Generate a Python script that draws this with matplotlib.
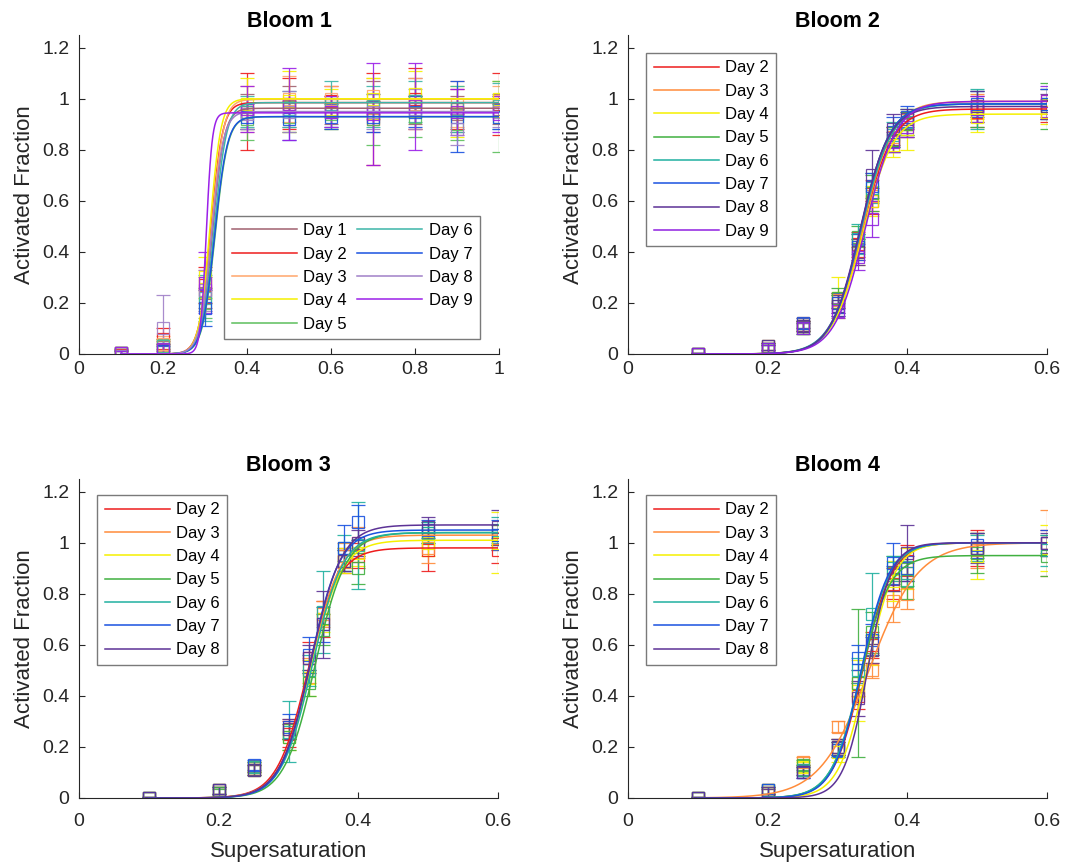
import numpy as np
import matplotlib
matplotlib.use("Agg")
import matplotlib.pyplot as plt
from matplotlib.ticker import FuncFormatter


# ---- Bloom 1 (days 1-9) ----
B1_X = [0.1, 0.2, 0.3, 0.4, 0.5, 0.6, 0.7, 0.8, 0.9, 1.0]
B1_DAYS = ["Day 1", "Day 2", "Day 3", "Day 4", "Day 5", "Day 6", "Day 7", "Day 8", "Day 9"]
B1_Y = [
    [0.005, 0.03, 0.24, 0.95, 0.97, 0.95, 0.97, 0.99, 0.94, 0.96],
    [0.005, 0.06, 0.27, 0.95, 0.98, 0.99, 0.92, 1.00, 0.96, 0.98],
    [0.003, 0.04, 0.25, 0.96, 1.00, 1.00, 1.01, 0.98, 0.98, 0.99],
    [0.002, 0.03, 0.30, 0.98, 0.99, 0.96, 1.00, 1.02, 0.95, 1.00],
    [0.004, 0.02, 0.20, 0.92, 0.93, 0.94, 0.92, 0.93, 0.90, 0.93],
    [0.003, 0.03, 0.22, 0.95, 0.96, 0.98, 0.97, 0.99, 0.96, 0.97],
    [0.002, 0.01, 0.18, 0.93, 0.92, 0.93, 0.93, 0.95, 0.93, 0.93],
    [0.004, 0.10, 0.25, 0.94, 0.95, 0.95, 0.95, 0.96, 0.88, 0.95],
    [0.002, 0.02, 0.28, 0.96, 0.98, 0.95, 0.94, 0.97, 0.95, 0.94],
]
B1_ERR = [
    [0.010, 0.02, 0.06, 0.07, 0.08, 0.05, 0.10, 0.09, 0.07, 0.06],
    [0.015, 0.04, 0.07, 0.15, 0.10, 0.06, 0.18, 0.12, 0.08, 0.12],
    [0.010, 0.03, 0.08, 0.09, 0.09, 0.05, 0.07, 0.10, 0.09, 0.06],
    [0.010, 0.03, 0.08, 0.10, 0.12, 0.08, 0.08, 0.09, 0.10, 0.07],
    [0.010, 0.02, 0.06, 0.08, 0.06, 0.06, 0.10, 0.08, 0.06, 0.14],
    [0.010, 0.03, 0.09, 0.06, 0.07, 0.09, 0.08, 0.08, 0.09, 0.09],
    [0.010, 0.02, 0.07, 0.05, 0.08, 0.05, 0.06, 0.06, 0.14, 0.05],
    [0.010, 0.13, 0.08, 0.06, 0.08, 0.06, 0.07, 0.08, 0.06, 0.06],
    [0.010, 0.02, 0.12, 0.09, 0.14, 0.06, 0.20, 0.17, 0.09, 0.07],
]
B1_TOP = [0.963, 0.985, 0.998, 1.0, 0.93, 0.985, 0.93, 0.95, 0.945]
B1_MID = [0.318, 0.314, 0.316, 0.312, 0.324, 0.322, 0.323, 0.316, 0.303]
B1_WIDTH = [0.014, 0.014, 0.014, 0.013, 0.015, 0.015, 0.015, 0.014, 0.007]
B1_COLORS = ["#a0616f", "#ee1c1c", "#ffa56b", "#f5f000", "#5cbf5c",
             "#3cb5a8", "#1a52e0", "#a080c8", "#9b20e8"]

# ---- Bloom 2 (days 2-9) ----
X_SS = [0.1, 0.2, 0.25, 0.3, 0.33, 0.35, 0.38, 0.4, 0.5, 0.6]
B2_DAYS = ["Day 2", "Day 3", "Day 4", "Day 5", "Day 6", "Day 7", "Day 8", "Day 9"]
B2_Y = [
    [0.0, 0.03, 0.11, 0.20, 0.43, 0.60, 0.84, 0.90, 0.95, 0.95],
    [0.0, 0.02, 0.12, 0.21, 0.42, 0.62, 0.85, 0.90, 0.97, 0.99],
    [0.0, 0.02, 0.10, 0.22, 0.40, 0.60, 0.82, 0.88, 0.93, 0.95],
    [0.0, 0.03, 0.11, 0.22, 0.46, 0.63, 0.84, 0.90, 0.96, 0.97],
    [0.0, 0.02, 0.10, 0.19, 0.45, 0.65, 0.86, 0.91, 0.96, 0.98],
    [0.0, 0.02, 0.12, 0.20, 0.42, 0.66, 0.87, 0.93, 0.98, 0.98],
    [0.0, 0.03, 0.11, 0.19, 0.40, 0.70, 0.88, 0.92, 0.97, 0.97],
    [0.0, 0.02, 0.10, 0.17, 0.38, 0.53, 0.83, 0.89, 0.96, 0.99],
]
B2_ERR = [
    [0.005, 0.015, 0.02, 0.04, 0.05, 0.05, 0.05, 0.05, 0.06, 0.04],
    [0.005, 0.015, 0.02, 0.03, 0.05, 0.06, 0.04, 0.04, 0.05, 0.05],
    [0.005, 0.015, 0.02, 0.08, 0.05, 0.06, 0.05, 0.08, 0.06, 0.05],
    [0.005, 0.015, 0.02, 0.04, 0.04, 0.07, 0.05, 0.05, 0.07, 0.09],
    [0.005, 0.015, 0.02, 0.04, 0.06, 0.06, 0.05, 0.05, 0.08, 0.06],
    [0.005, 0.015, 0.02, 0.04, 0.05, 0.05, 0.06, 0.04, 0.05, 0.06],
    [0.005, 0.015, 0.02, 0.04, 0.05, 0.10, 0.06, 0.04, 0.06, 0.05],
    [0.005, 0.015, 0.02, 0.03, 0.05, 0.07, 0.04, 0.04, 0.05, 0.06],
]
B2_TOP = [0.96, 0.99, 0.94, 0.98, 0.98, 0.98, 0.97, 0.99]
B2_MID = [0.335, 0.336, 0.336, 0.333, 0.334, 0.333, 0.332, 0.340]
B2_WIDTH = [0.022, 0.022, 0.022, 0.021, 0.022, 0.021, 0.021, 0.022]
B2_COLORS = ["#ee1c1c", "#ff8c3a", "#f5f000", "#40b040",
             "#20b0a0", "#1a52e0", "#5c3296", "#9020e0"]

# ---- Bloom 3 (days 2-8) ----
B3_DAYS = ["Day 2", "Day 3", "Day 4", "Day 5", "Day 6", "Day 7", "Day 8"]
B3_Y = [
    [0.0, 0.03, 0.12, 0.25, 0.55, 0.70, 0.93, 0.95, 0.97, 0.97],
    [0.0, 0.03, 0.11, 0.27, 0.50, 0.72, 0.95, 1.00, 0.98, 1.02],
    [0.0, 0.03, 0.12, 0.24, 0.47, 0.70, 0.93, 0.96, 1.00, 1.00],
    [0.0, 0.02, 0.11, 0.24, 0.45, 0.66, 0.93, 0.90, 1.04, 1.03],
    [0.0, 0.03, 0.12, 0.26, 0.50, 0.73, 0.98, 0.99, 1.04, 1.05],
    [0.0, 0.03, 0.13, 0.28, 0.56, 0.68, 0.98, 1.08, 1.05, 1.03],
    [0.0, 0.03, 0.11, 0.27, 0.55, 0.68, 0.93, 1.00, 1.06, 1.06],
]
B3_ERR = [
    [0.005, 0.015, 0.02, 0.05, 0.06, 0.07, 0.05, 0.05, 0.08, 0.05],
    [0.005, 0.015, 0.02, 0.04, 0.05, 0.05, 0.05, 0.06, 0.06, 0.05],
    [0.005, 0.015, 0.02, 0.05, 0.07, 0.05, 0.05, 0.05, 0.05, 0.12],
    [0.005, 0.015, 0.02, 0.05, 0.05, 0.06, 0.04, 0.06, 0.04, 0.04],
    [0.005, 0.015, 0.02, 0.12, 0.06, 0.16, 0.05, 0.17, 0.04, 0.05],
    [0.005, 0.015, 0.02, 0.05, 0.07, 0.07, 0.09, 0.07, 0.04, 0.06],
    [0.005, 0.015, 0.02, 0.04, 0.05, 0.13, 0.04, 0.05, 0.04, 0.07],
]
B3_TOP = [0.98, 1.03, 1.01, 1.04, 1.04, 1.05, 1.07]
B3_MID = [0.327, 0.331, 0.332, 0.338, 0.334, 0.331, 0.332]
B3_WIDTH = [0.022, 0.022, 0.022, 0.022, 0.022, 0.021, 0.022]

# ---- Bloom 4 (days 2-8) ----
B4_DAYS = ["Day 2", "Day 3", "Day 4", "Day 5", "Day 6", "Day 7", "Day 8"]
B4_Y = [
    [0.0, 0.03, 0.11, 0.20, 0.40, 0.60, 0.84, 0.93, 0.98, 1.00],
    [0.0, 0.03, 0.14, 0.28, 0.45, 0.50, 0.77, 0.80, 0.97, 1.00],
    [0.0, 0.02, 0.12, 0.18, 0.42, 0.58, 0.85, 0.90, 0.95, 0.98],
    [0.0, 0.03, 0.13, 0.20, 0.45, 0.65, 0.88, 0.85, 0.96, 0.95],
    [0.0, 0.03, 0.11, 0.19, 0.50, 0.72, 0.90, 0.88, 0.98, 0.97],
    [0.0, 0.03, 0.10, 0.19, 0.55, 0.62, 0.92, 0.90, 0.99, 1.00],
    [0.0, 0.02, 0.10, 0.20, 0.39, 0.58, 0.86, 0.96, 0.98, 1.00],
]
B4_ERR = [
    [0.005, 0.015, 0.02, 0.03, 0.05, 0.05, 0.06, 0.06, 0.07, 0.05],
    [0.005, 0.015, 0.02, 0.02, 0.05, 0.03, 0.08, 0.06, 0.07, 0.13],
    [0.005, 0.015, 0.02, 0.04, 0.12, 0.06, 0.08, 0.08, 0.09, 0.09],
    [0.005, 0.015, 0.02, 0.03, 0.29, 0.08, 0.07, 0.07, 0.08, 0.08],
    [0.005, 0.015, 0.02, 0.03, 0.05, 0.16, 0.05, 0.05, 0.05, 0.06],
    [0.005, 0.015, 0.02, 0.03, 0.05, 0.06, 0.08, 0.05, 0.05, 0.05],
    [0.005, 0.015, 0.02, 0.03, 0.07, 0.05, 0.05, 0.11, 0.06, 0.04],
]
B4_TOP = [1.0, 1.0, 1.0, 0.95, 1.0, 1.0, 1.0]
B4_MID = [0.336, 0.345, 0.342, 0.333, 0.334, 0.334, 0.343]
B4_WIDTH = [0.021, 0.035, 0.020, 0.021, 0.021, 0.020, 0.017]
B34_COLORS = B2_COLORS[:7]

AXIS_COLOR = "#262626"


def sigmoid(x, top, mid, width):
    return top / (1.0 + np.exp(-(x - mid) / width))


def tick_fmt(v, _pos):
    return f"{v:g}"


def draw_bloom(ax, title, x, ys, errs, tops, mids, widths, days, colors, xmax):
    xs = np.linspace(min(x), max(x), 400)
    handles = []
    for y, e, t, m, w, c, d in zip(ys, errs, tops, mids, widths, colors, days):
        ax.errorbar(x, y, yerr=e, fmt="s", mfc="none", mec=c, ecolor=c,
                    ms=8, mew=0.9, elinewidth=0.9, capsize=5, capthick=0.9,
                    alpha=0.9, zorder=2)
        line, = ax.plot(xs, sigmoid(xs, t, m, w), color=c, lw=1.1, label=d,
                        zorder=3)
        handles.append(line)

    ax.set_xlim(0, xmax)
    ax.set_ylim(0, 1.25)
    ax.set_xticks(np.arange(0, xmax + 0.01, 0.2))
    ax.set_yticks(np.arange(0, 1.21, 0.2))
    ax.xaxis.set_major_formatter(FuncFormatter(tick_fmt))
    ax.yaxis.set_major_formatter(FuncFormatter(tick_fmt))
    for side in ("top", "right"):
        ax.spines[side].set_visible(False)
    for side in ("left", "bottom"):
        ax.spines[side].set_color(AXIS_COLOR)
        ax.spines[side].set_linewidth(0.8)
    ax.tick_params(direction="in", length=4, width=0.8, color=AXIS_COLOR,
                   labelcolor=AXIS_COLOR, labelsize=14, pad=7)
    ax.set_title(title, fontsize=15.5, fontweight="bold", pad=6)
    ax.set_ylabel("Activated Fraction", fontsize=16, color=AXIS_COLOR, labelpad=5)
    return handles


def legend(ax, handles, loc, anchor, ncol=1):
    leg = ax.legend(handles=handles, loc=loc, bbox_to_anchor=anchor, ncol=ncol,
                    fontsize=12, handlelength=3.9, handletextpad=0.4,
                    labelspacing=0.5, columnspacing=0.6, borderpad=0.45,
                    borderaxespad=0, fancybox=False, framealpha=1)
    leg.get_frame().set_edgecolor("#7a7a7a")
    leg.get_frame().set_linewidth(1.0)


def main():
    plt.rcParams["font.family"] = ["Liberation Sans", "DejaVu Sans"]
    fig = plt.figure(figsize=(10.65, 8.67), dpi=100)

    W, H = 1065, 867
    ax_h = 319 / H
    ax1 = fig.add_axes([79 / W, 1 - 354 / H, 420 / W, ax_h])
    ax2 = fig.add_axes([628 / W, 1 - 354 / H, 419 / W, ax_h])
    ax3 = fig.add_axes([79 / W, 1 - 798 / H, 419 / W, ax_h])
    ax4 = fig.add_axes([628 / W, 1 - 798 / H, 419 / W, ax_h])

    h1 = draw_bloom(ax1, "Bloom 1", B1_X, B1_Y, B1_ERR, B1_TOP, B1_MID,
                    B1_WIDTH, B1_DAYS, B1_COLORS, 1.0)
    legend(ax1, h1, "lower right", (0.955, 0.047), ncol=2)

    h2 = draw_bloom(ax2, "Bloom 2", X_SS, B2_Y, B2_ERR, B2_TOP, B2_MID,
                    B2_WIDTH, B2_DAYS, B2_COLORS, 0.6)
    legend(ax2, h2, "upper left", (0.043, 0.944))

    h3 = draw_bloom(ax3, "Bloom 3", X_SS, B3_Y, B3_ERR, B3_TOP, B3_MID,
                    B3_WIDTH, B3_DAYS, B34_COLORS, 0.6)
    legend(ax3, h3, "upper left", (0.043, 0.95))

    h4 = draw_bloom(ax4, "Bloom 4", X_SS, B4_Y, B4_ERR, B4_TOP, B4_MID,
                    B4_WIDTH, B4_DAYS, B34_COLORS, 0.6)
    legend(ax4, h4, "upper left", (0.043, 0.95))

    # top row: labels sit close to the axis; bottom row sits a bit lower
    for ax in (ax1, ax2):
        ax.tick_params(axis="x", pad=5)
    for ax in (ax3, ax4):
        ax.tick_params(axis="x", pad=11)
        ax.set_xlabel("Supersaturation", fontsize=16, color=AXIS_COLOR, labelpad=8)

    fig.savefig("out.png", dpi=100, facecolor="white")


if __name__ == "__main__":
    main()
